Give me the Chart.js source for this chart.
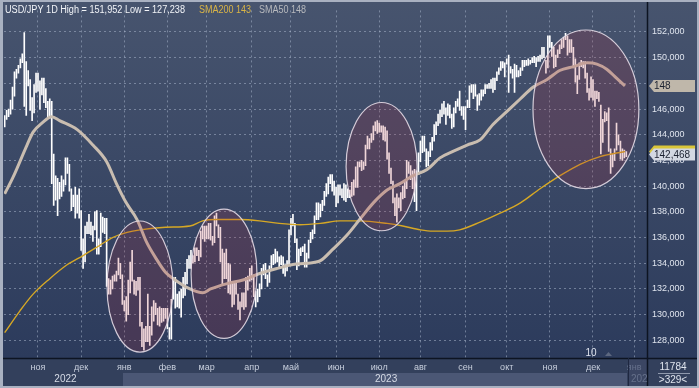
<!DOCTYPE html>
<html>
<head>
<meta charset="utf-8">
<script src="https://cdn.jsdelivr.net/npm/chart.js@4.4.0/dist/chart.umd.min.js"></script>
<style>
  html, body { margin: 0; padding: 0; background: #a9b1c1; }
  canvas { display: block; }
</style>
</head>
<body>
<canvas id="myChart" width="699" height="388"></canvas>
<script>
// USD/JPY daily bars, Oct 7 2022 .. Dec 27 2023 (one line per month)
const highs = [
  145.5,145.9,146.0,146.7,147.7,148.9,149.1,149.4,149.9,150.3,151.95,149.7,149.0,148.3,146.9,147.9,148.8,
  148.8,148.2,148.4,148.4,147.6,146.6,146.8,146.6,142.5,140.8,140.6,140.3,140.8,140.5,142.2,142.2,141.7,139.8,139.3,139.9,139.3,139.8,
  138.1,135.9,136.9,137.2,137.8,137.2,136.9,138.0,138.1,135.9,137.9,137.6,137.5,137.5,132.8,132.7,133.0,133.1,133.4,134.4,134.0,133.1,
  131.1,131.4,132.7,134.1,135.0,132.7,132.6,132.9,132.9,129.4,128.9,129.1,131.6,129.1,130.6,131.1,130.9,130.5,130.6,130.5,130.5,130.5,
  130.5,129.0,131.2,132.9,132.9,131.6,131.8,132.0,132.9,133.3,134.3,134.6,135.0,134.6,135.2,135.2,135.0,136.5,136.9,136.9,
  136.9,137.1,137.1,136.1,137.7,137.9,137.0,136.8,135.1,134.8,135.1,134.0,133.9,132.6,132.6,132.6,131.6,131.0,131.7,131.7,132.9,133.0,133.6,
  133.8,133.1,131.8,132.0,132.4,133.6,133.9,134.0,133.1,133.8,134.6,134.7,135.1,134.9,134.5,134.6,134.5,133.9,134.2,136.6,
  137.5,137.8,137.1,135.9,135.1,135.2,135.3,135.5,134.8,135.8,136.4,136.6,137.7,138.7,138.7,138.6,138.9,139.6,140.2,140.7,140.9,140.9,140.4,
  139.9,140.1,140.1,139.8,140.2,140.1,139.8,139.7,140.3,140.5,141.5,141.9,141.9,142.0,141.9,143.2,143.9,143.7,144.1,144.7,145.0,145.1,
  144.9,144.7,144.7,144.6,144.3,142.6,141.4,140.4,139.1,139.4,139.1,139.5,140.0,140.4,142.0,141.9,141.6,141.2,141.3,141.2,142.6,
  143.5,143.9,143.9,142.9,142.7,143.4,143.8,144.8,145.0,145.6,145.9,146.4,146.6,146.1,146.4,146.3,145.6,146.1,146.6,146.8,147.4,146.2,146.2,
  146.2,146.7,147.8,147.9,147.9,147.9,147.1,147.2,147.5,147.5,147.9,147.9,148.0,148.3,148.4,148.4,148.9,149.2,149.7,149.7,149.6,
  149.9,150.2,149.3,149.1,149.5,149.4,149.0,149.2,149.8,149.8,149.8,149.9,149.8,150.0,150.1,150.0,150.1,150.2,150.8,150.8,149.8,151.7,
  151.7,151.2,150.8,150.2,150.6,151.0,151.4,151.6,151.9,151.7,151.4,151.4,150.8,149.9,148.6,149.6,149.8,149.7,149.7,148.8,147.6,148.5,
  148.3,147.4,147.4,147.3,146.3,145.2,145.8,145.7,146.1,142.9,142.5,142.9,144.9,144.0,143.5,142.9,142.8,142.7
];
const lows = [
  144.6,145.2,145.4,145.6,146.0,147.0,148.4,148.8,149.2,149.6,146.2,145.5,147.8,145.9,145.1,145.7,147.3,
  147.4,146.0,147.1,146.5,146.1,145.3,145.3,140.2,138.5,138.9,137.7,139.0,139.2,139.6,140.1,141.0,139.6,138.1,138.4,137.5,137.9,137.5,
  135.0,133.6,134.1,136.3,136.3,136.2,135.7,136.6,134.7,134.7,135.3,136.4,136.3,132.2,131.6,131.6,132.0,132.6,132.6,133.1,132.8,130.8,
  130.3,129.5,130.0,131.7,132.6,131.6,131.5,131.9,129.1,127.5,127.24,127.9,127.9,127.6,128.4,129.5,130.0,129.2,129.1,129.4,129.5,129.7,
  128.9,128.1,128.1,131.2,130.5,130.6,130.5,129.8,131.3,131.5,132.4,133.6,133.6,134.0,134.1,134.6,134.2,134.5,135.9,135.7,
  135.9,135.9,135.8,135.4,135.6,136.9,136.0,134.1,132.3,132.8,132.8,131.7,131.6,130.6,130.8,131.6,130.4,129.6,130.6,130.4,130.6,131.9,132.6,
  132.7,131.4,130.6,131.0,131.4,132.0,133.1,132.8,132.2,132.5,133.6,133.9,134.0,134.1,133.6,133.9,133.2,133.0,133.4,133.9,
  136.2,136.9,135.6,133.5,133.8,134.6,134.9,133.7,133.7,134.4,135.6,135.9,136.3,137.4,137.4,137.6,138.1,138.5,139.2,139.4,140.2,139.6,139.3,
  138.4,138.7,139.3,139.1,138.9,138.8,139.1,139.1,139.2,139.3,139.9,139.9,141.5,141.2,141.3,141.6,142.9,142.9,143.4,143.6,144.3,144.1,
  144.2,144.2,143.6,143.5,142.1,141.0,140.2,138.7,137.7,137.2,138.3,138.1,139.0,139.1,139.8,141.0,140.5,139.8,138.8,138.1,140.9,
  141.9,142.6,142.7,141.5,141.6,142.3,142.8,143.5,144.0,144.7,144.9,145.4,145.6,144.8,145.5,145.3,144.5,144.6,145.7,146.2,145.9,145.5,145.2,
  144.4,146.1,146.1,147.3,146.8,147.0,145.9,146.3,146.7,147.0,147.2,147.6,147.6,147.6,147.3,147.5,148.2,148.7,149.0,149.2,148.5,
  149.5,147.3,148.8,148.4,147.3,148.5,148.5,148.6,149.0,149.3,149.4,149.4,149.5,149.6,149.6,149.3,149.7,149.7,149.9,150.0,148.8,149.2,
  150.8,150.1,149.2,149.3,150.0,150.3,150.7,150.8,151.4,150.2,150.4,150.4,149.2,148.1,147.2,148.3,149.3,149.2,148.4,147.3,146.7,146.9,
  146.7,146.2,146.8,146.6,142.5,143.4,145.0,145.1,142.7,141.0,141.5,142.0,142.8,143.2,142.1,142.0,142.2,142.3
];

// moving averages (bar index, value)
const sma50Idx = [0,4.3,11.4,14.5,19,24,28,37,45,52,57,62,67.5,72.5,77.5,82,86,94.5,101,105,113,121.5,130,139,147,154,161,167.4,174.6,181,188,195,201.6,208,215.4,222,228.6,235.8,242.4,249,256,263,269.4,276.6,283,290,297,302,307,312,316.3];
const sma50Val = [139.4,140.7,143.2,144.2,144.9,145.4,145.1,144.4,143.2,141.9,140.2,138.7,137.4,135.6,134.3,133.3,132.8,132.0,131.7,132.0,132.4,132.7,133.2,133.6,133.9,134.0,134.2,135.1,136.2,137.4,138.7,139.7,140.2,140.8,141.3,142.2,142.7,143.2,143.6,144.8,145.8,146.8,147.7,148.3,149.0,149.3,149.6,149.5,149.1,148.4,147.8];
const sma200Idx = [0,7.8,14.5,23,32,40,48.6,55,62.4,69,82,94.5,101,108,120,130,140,150.6,161,171,181,195,203,212,218.4,225.6,232,242.4,252.6,263,273,283,293.4,303.6,316.3];
const sma200Val = [128.6,130.3,131.6,132.8,133.9,134.6,135.4,136.0,136.4,136.6,136.8,136.9,137.3,137.4,137.4,137.3,137.1,137.0,137.1,137.3,137.3,137.1,136.9,136.6,136.5,136.5,136.6,137.2,137.9,138.7,139.8,140.8,141.7,142.3,142.7];

// x axis: month starts (bar index) and labels
const monthIdx = [17, 39, 61, 83, 103, 126, 146, 169, 191, 212, 235, 256, 278, 300, 321];
const monthLabels = ['ноя','дек','янв','фев','мар','апр','май','июн','июл','авг','сен','окт','ноя','дек','янв'];
const yearIdx = [31, 194.5];
const yearLabels = ['2022', '2023'];
const yTicks = [128,130,132,134,136,138,140,142,144,146,148,150,152];

// highlighted zones (centre index, centre price, half width in bars, half height in price)
const ellCx = [69.0, 111.85, 192.2, 296.4];
const ellCy = [132.19, 133.18, 141.52, 145.98];
const ellRx = [16.8, 16.8, 18.1, 27.0];
const ellRy = [5.10, 5.03, 4.99, 6.17];

const lastClose = 142.468;
const headerMain = 'USD/JPY 1D High = 151,952 Low = 127,238';
const headerSma200 = 'SMA200 143';
const headerSma50 = 'SMA50 148';

const FONT = '"Liberation Sans", Arial, sans-serif';

const bars = highs.map((h, i) => ({ x: i, y: [lows[i], h] }));
const sma50 = sma50Idx.map((v, i) => ({ x: v, y: sma50Val[i] }));
const sma200 = sma200Idx.map((v, i) => ({ x: v, y: sma200Val[i] }));

const bgPlugin = {
  id: 'bg',
  beforeDraw(chart) {
    const ctx = chart.ctx;
    const a = chart.chartArea;
    ctx.save();
    ctx.fillStyle = '#a9b1c1';
    ctx.fillRect(0, 0, 699, 388);
    const g = ctx.createLinearGradient(0, 2, 0, a.bottom);
    g.addColorStop(0, '#47546e');
    g.addColorStop(1, '#2c3b5c');
    ctx.fillStyle = g;
    ctx.fillRect(3, 2, 694, a.bottom - 2);
    // bottom strip
    ctx.fillStyle = '#33405c';
    ctx.fillRect(3, a.bottom, 694, 386 - a.bottom);
    ctx.fillStyle = '#4b5775';
    ctx.fillRect(123, 373, 504, 13);
    ctx.fillStyle = '#3b4663';
    ctx.fillRect(629, a.bottom, a.right - 629, 386 - a.bottom);
    ctx.restore();
  }
};

const ellipsePlugin = {
  id: 'ellipses',
  afterDatasetsDraw(chart) {
    const ctx = chart.ctx;
    const x = chart.scales.x, y = chart.scales.y;
    ctx.save();
    for (let k = 0; k < ellCx.length; k++) {
      const cx = x.getPixelForValue(ellCx[k]);
      const cy = y.getPixelForValue(ellCy[k]);
      const rx = Math.abs(x.getPixelForValue(ellCx[k] + ellRx[k]) - cx);
      const ry = Math.abs(y.getPixelForValue(ellCy[k] + ellRy[k]) - cy);
      ctx.beginPath();
      ctx.ellipse(cx, cy, rx, ry, 0, 0, Math.PI * 2);
      ctx.fillStyle = 'rgba(175, 44, 60, 0.2)';
      ctx.fill();
      ctx.strokeStyle = 'rgba(228, 218, 230, 0.9)';
      ctx.lineWidth = 1.2;
      ctx.stroke();
    }
    ctx.restore();
  }
};

function tag(ctx, left, cy, w, h, fill, text) {
  ctx.beginPath();
  ctx.moveTo(left, cy);
  ctx.lineTo(left + 5, cy - h / 2);
  ctx.lineTo(left + w, cy - h / 2);
  ctx.lineTo(left + w, cy + h / 2);
  ctx.lineTo(left + 5, cy + h / 2);
  ctx.closePath();
  ctx.fillStyle = fill;
  ctx.fill();
  if (text) {
    ctx.fillStyle = '#1c2230';
    ctx.textAlign = 'left';
    ctx.textBaseline = 'middle';
    ctx.fillText(text, left + 5, cy + 0.5);
  }
}

const overlayPlugin = {
  id: 'overlay',
  afterDraw(chart) {
    const ctx = chart.ctx;
    const a = chart.chartArea;
    const x = chart.scales.x, y = chart.scales.y;
    ctx.save();
    // axis borders
    ctx.strokeStyle = '#0d1422';
    ctx.lineWidth = 1.5;
    ctx.beginPath();
    ctx.moveTo(a.right + 0.5, 2);
    ctx.lineTo(a.right + 0.5, 386);
    ctx.moveTo(3, a.bottom + 0.5);
    ctx.lineTo(697, a.bottom + 0.5);
    ctx.stroke();
    ctx.strokeStyle = '#1e2740';
    ctx.lineWidth = 1;
    ctx.beginPath();
    ctx.moveTo(628.5, a.bottom);
    ctx.lineTo(628.5, 386);
    ctx.stroke();

    // header (squeezed to the width it takes in the terminal font)
    ctx.font = '10px ' + FONT;
    ctx.textBaseline = 'middle';
    ctx.textAlign = 'left';
    ctx.fillStyle = '#f2f4f8';
    ctx.fillText(headerMain, 5, 10, 180);
    ctx.fillStyle = '#d9b446';
    ctx.fillText(headerSma200, 199, 10, 52);
    ctx.fillStyle = '#b7b9bd';
    ctx.fillText(headerSma50, 259, 10, 47);

    // year labels
    ctx.font = '10px ' + FONT;
    ctx.fillStyle = '#d6dbe6';
    ctx.textAlign = 'center';
    for (let k = 0; k < yearIdx.length; k++) {
      ctx.fillText(yearLabels[k], x.getPixelForValue(yearIdx[k]), 379.5);
    }
    ctx.fillStyle = '#66718b';
    ctx.textAlign = 'left';
    ctx.fillText('202', 631, 379.5);

    // bottom right box
    ctx.fillStyle = '#dfe4ee';
    ctx.textAlign = 'center';
    ctx.fillText('11784', 673, 367);
    ctx.fillText('>329<', 673, 380);
    ctx.strokeStyle = '#8f99ad';
    ctx.beginPath();
    ctx.moveTo(658, 373.5);
    ctx.lineTo(690, 373.5);
    ctx.stroke();

    // page marker
    ctx.fillStyle = '#dfe4ee';
    ctx.fillText('10', x.getPixelForValue(299), a.bottom - 5);
    ctx.fillStyle = '#5d6880';
    ctx.beginPath();
    ctx.moveTo(605, a.bottom - 2);
    ctx.lineTo(608.5, a.bottom - 6);
    ctx.lineTo(612, a.bottom - 2);
    ctx.closePath();
    ctx.fill();

    // price tags on the right axis
    ctx.font = '10px ' + FONT;
    tag(ctx, a.right + 2, y.getPixelForValue(sma50Val[sma50Val.length - 1]), 46, 12, '#bfb7aa', '148');
    tag(ctx, a.right + 2, y.getPixelForValue(sma200Val[sma200Val.length - 1]), 46, 12, '#d9c63a', '');
    tag(ctx, a.right + 2, y.getPixelForValue(lastClose), 46, 12, '#d3d8e2', '142,468');
    ctx.restore();
  }
};

const data = {
  datasets: [
    {
      type: 'line',
      label: 'SMA50',
      data: sma50,
      borderColor: '#c9bdb0',
      borderWidth: 3,
      pointRadius: 0,
      cubicInterpolationMode: 'monotone',
      order: 1
    },
    {
      type: 'line',
      label: 'SMA200',
      data: sma200,
      borderColor: '#d6a825',
      borderWidth: 1.4,
      pointRadius: 0,
      cubicInterpolationMode: 'monotone',
      order: 2
    },
    {
      type: 'bar',
      label: 'USD/JPY',
      data: bars,
      backgroundColor: '#ffffff',
      barThickness: 1,
      grouped: false,
      order: 3
    }
  ]
};

const config = {
  type: 'bar',
  data: data,
  options: {
    responsive: false,
    animation: false,
    events: [],
    layout: { padding: { left: 4, top: 3, right: 2, bottom: 2 } },
    plugins: { legend: { display: false }, tooltip: { enabled: false } },
    scales: {
      x: {
        type: 'linear',
        min: -0.337,
        max: 327.54,
        offset: false,
        grid: { offset: false, color: 'rgba(165, 178, 200, 0.55)', drawTicks: false, lineWidth: 1 },
        border: { display: false, dash: [2, 3] },
        afterBuildTicks: (s) => { s.ticks = monthIdx.map(v => ({ value: v })); },
        afterFit: (s) => { s.height = 28; },
        ticks: {
          autoSkip: false,
          maxRotation: 0,
          padding: 4,
          font: { family: FONT, size: 9 },
          color: (c) => c.index === 14 ? '#66718b' : '#c8cfdd',
          callback: (v, i) => monthLabels[i]
        }
      },
      y: {
        type: 'linear',
        position: 'right',
        min: 126.628,
        max: 153.676,
        grid: { color: 'rgba(165, 178, 200, 0.55)', drawTicks: false, lineWidth: 1 },
        border: { display: false, dash: [2, 3] },
        afterBuildTicks: (s) => { s.ticks = yTicks.map(v => ({ value: v })); },
        afterFit: (s) => { s.width = 50; },
        ticks: {
          padding: 5,
          crossAlign: 'near',
          font: { family: FONT, size: 9 },
          color: '#dfe4ee',
          callback: (v) => v.toFixed(3).replace('.', ',')
        }
      }
    }
  },
  plugins: [bgPlugin, ellipsePlugin, overlayPlugin]
};

const myChart = new Chart(document.getElementById('myChart'), config);
</script>
</body>
</html>
